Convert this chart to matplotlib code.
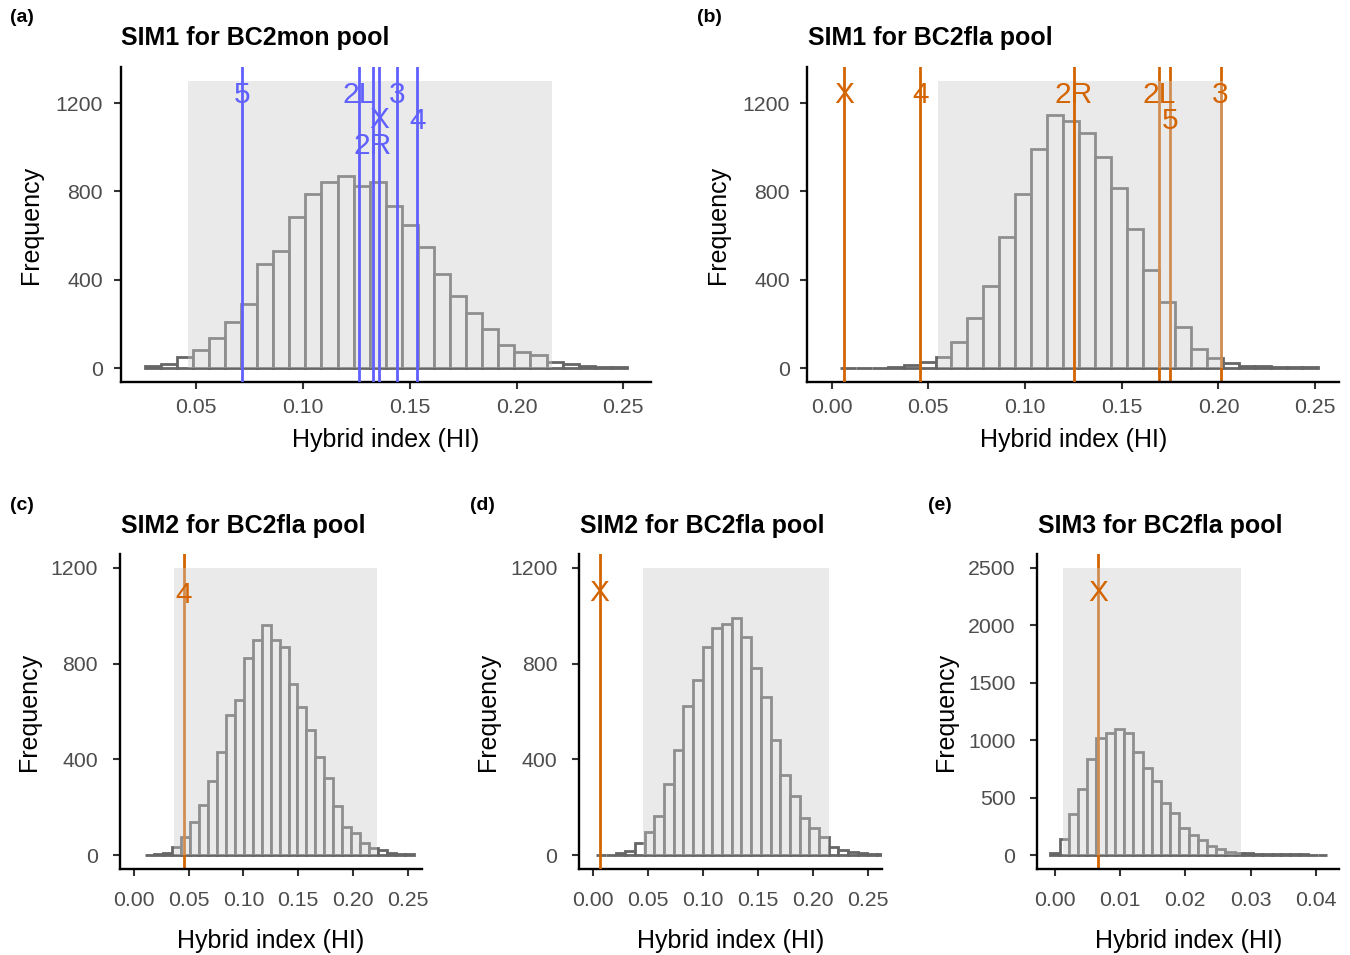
import numpy as np
import matplotlib
matplotlib.use("Agg")
from matplotlib import pyplot as plt
from matplotlib.patches import Rectangle

plt.rcParams['font.family'] = ['Liberation Sans', 'DejaVu Sans']

# ---- data ----
# histogram counts (30 bins each), first bin edge and bin width
a_counts = [9, 18, 51, 80, 137, 210, 289, 472, 529, 684, 790, 843, 868, 823, 843,
            733, 648, 546, 425, 327, 250, 178, 104, 72, 60, 29, 18, 9, 5, 5]
a_start, a_width = 0.0258, 0.00753
b_counts = [1, 1, 1, 3, 14, 29, 51, 118, 228, 371, 594, 790, 990, 1146, 1120,
            1064, 954, 817, 629, 443, 301, 184, 87, 47, 24, 11, 8, 6, 5, 4]
b_start, b_width = 0.0042, 0.00825
c_counts = [2, 5, 8, 35, 74, 140, 208, 311, 430, 587, 649, 825, 900, 960, 900,
            871, 717, 617, 523, 409, 322, 206, 117, 93, 49, 31, 21, 10, 4, 4]
c_start, c_width = 0.0107, 0.00815
d_counts = [1, 2, 7, 17, 49, 95, 164, 295, 439, 624, 732, 871, 948, 966, 992,
            910, 783, 659, 481, 334, 247, 156, 111, 74, 35, 21, 11, 7, 4, 3]
d_start, d_width = 0.003, 0.0088
e_counts = [15, 140, 358, 578, 840, 1023, 1067, 1099, 1067, 901, 762, 648, 451, 369, 238,
            174, 131, 78, 55, 29, 20, 15, 12, 10, 9, 6, 5, 5, 3, 3]
e_start, e_width = -0.0007, 0.001413

# shaded interval (xmin, xmax, ymax)
a_band = (0.0463, 0.2166, 1300)
b_band = (0.0549, 0.2022, 1300)
c_band = (0.0366, 0.2222, 1200)
d_band = (0.0450, 0.2145, 1200)
e_band = (0.0012, 0.0285, 2500)

# marker lines: names, HI values, label heights
a_names = ['5', '2L', '2R', 'X', '3', '4']
a_hi = [0.0716, 0.1261, 0.1326, 0.1358, 0.1440, 0.1536]
a_laby = [1235, 1235, 1005, 1125, 1235, 1118]
b_names = ['X', '4', '2R', '2L', '5', '3']
b_hi = [0.0064, 0.0458, 0.1251, 0.1695, 0.1751, 0.2011]
b_laby = [1235, 1235, 1235, 1235, 1118, 1235]
c_names, c_hi, c_laby = ['4'], [0.0455], [1088]
d_names, d_hi, d_laby = ['X'], [0.0061], [1094]
e_names, e_hi, e_laby = ['X'], [0.0066], [2282]

titles = ['SIM1 for BC2mon pool', 'SIM1 for BC2fla pool', 'SIM2 for BC2fla pool',
          'SIM2 for BC2fla pool', 'SIM3 for BC2fla pool']
tags = ['(a)', '(b)', '(c)', '(d)', '(e)']

BLUE = '#6060FF'
ORANGE = '#D46400'

# padding differs a little between the two rows of the reference
top_row = dict(ypad=7.8, xpad=6.0, xlabpad=8, ylabpad=9)
bot_row = dict(ypad=10.8, xpad=10.5, xlabpad=14, ylabpad=7)

panels = [
    dict(counts=a_counts, start=a_start, width=a_width, band=a_band, names=a_names, hi=a_hi,
         laby=a_laby, col=BLUE, under=set(), xt=np.arange(0.05, 0.26, 0.05),
         yt=[0, 400, 800, 1200], xl=(0.0145, 0.263), yl=(-65, 1365),
         pos=[120.5, 66.6, 651, 382.4], tag=(10, 18), tit=(121, 38), row=top_row),
    dict(counts=b_counts, start=b_start, width=b_width, band=b_band, names=b_names, hi=b_hi,
         laby=b_laby, col=ORANGE, under={'2L', '5', '3'}, xt=np.arange(0, 0.26, 0.05),
         yt=[0, 400, 800, 1200], xl=(-0.0125, 0.2625), yl=(-65, 1365),
         pos=[807.5, 66.6, 1339.3, 382.4], tag=(697, 18), tit=(808, 38), row=top_row),
    dict(counts=c_counts, start=c_start, width=c_width, band=c_band, names=c_names, hi=c_hi,
         laby=c_laby, col=ORANGE, under={'4'}, xt=np.arange(0, 0.26, 0.05),
         yt=[0, 400, 800, 1200], xl=(-0.0125, 0.2625), yl=(-60, 1260),
         pos=[120, 553.6, 421.7, 869.4], tag=(10, 506), tit=(121, 526), row=bot_row),
    dict(counts=d_counts, start=d_start, width=d_width, band=d_band, names=d_names, hi=d_hi,
         laby=d_laby, col=ORANGE, under=set(), xt=np.arange(0, 0.26, 0.05),
         yt=[0, 400, 800, 1200], xl=(-0.0125, 0.2625), yl=(-60, 1260),
         pos=[579.3, 553.6, 881.7, 869.4], tag=(470, 506), tit=(580, 526), row=bot_row),
    dict(counts=e_counts, start=e_start, width=e_width, band=e_band, names=e_names, hi=e_hi,
         laby=e_laby, col=ORANGE, under={'X'}, xt=np.arange(0, 0.041, 0.01),
         yt=[0, 500, 1000, 1500, 2000, 2500], xl=(-0.0027, 0.0436), yl=(-125, 2625),
         pos=[1037.3, 553.6, 1339.3, 869.4], tag=(928, 506), tit=(1038, 526), row=bot_row),
]

W, H = 1350, 955
fig = plt.figure(figsize=(W / 100, H / 100), dpi=100)

for p, title, tag in zip(panels, titles, tags):
    x0, y0, x1, y1 = p['pos']
    r = p['row']
    ax = fig.add_axes([x0 / W, 1 - y1 / H, (x1 - x0) / W, (y1 - y0) / H])

    n = len(p['counts'])
    lefts = p['start'] + p['width'] * np.arange(n)
    ax.bar(lefts, p['counts'], width=p['width'], align='edge', facecolor='white',
           edgecolor='#666666', linewidth=2.0, zorder=2)

    lo, hi, top = p['band']
    ax.add_patch(Rectangle((lo, 0), hi - lo, top, facecolor='#CCCCCC', alpha=0.4,
                           edgecolor='none', zorder=3))

    for name, xv, yv in zip(p['names'], p['hi'], p['laby']):
        z = 2.5 if name in p['under'] else 4
        ax.axvline(xv, color=p['col'], linewidth=2.0, zorder=z)
        ax.text(xv, yv, name, color=p['col'], fontsize=21.5, ha='center', va='center', zorder=5)

    ax.set_xlim(*p['xl'])
    ax.set_ylim(*p['yl'])
    ax.set_xticks(p['xt'])
    ax.set_xticklabels(['%.2f' % v for v in p['xt']])
    ax.set_yticks(p['yt'])
    ax.set_yticklabels([str(v) for v in p['yt']])
    for s in ['top', 'right']:
        ax.spines[s].set_visible(False)
    for s in ['left', 'bottom']:
        ax.spines[s].set_linewidth(1.7)
        ax.spines[s].set_color('black')
    ax.tick_params(axis='both', length=5, width=1.5, color='#333333', labelsize=15.3,
                   labelcolor='#4D4D4D')
    ax.tick_params(axis='y', pad=r['ypad'])
    ax.tick_params(axis='x', pad=r['xpad'])
    ax.set_xlabel('Hybrid index (HI)', fontsize=18, labelpad=r['xlabpad'])
    ax.set_ylabel('Frequency', fontsize=18, labelpad=r['ylabpad'])

    fig.text(p['tit'][0] / W, 1 - p['tit'][1] / H, title, fontsize=18, fontweight='bold',
             ha='left', va='center')
    fig.text(p['tag'][0] / W, 1 - p['tag'][1] / H, tag, fontsize=14, fontweight='bold',
             ha='left', va='center')

fig.savefig('out.png', dpi=100)
